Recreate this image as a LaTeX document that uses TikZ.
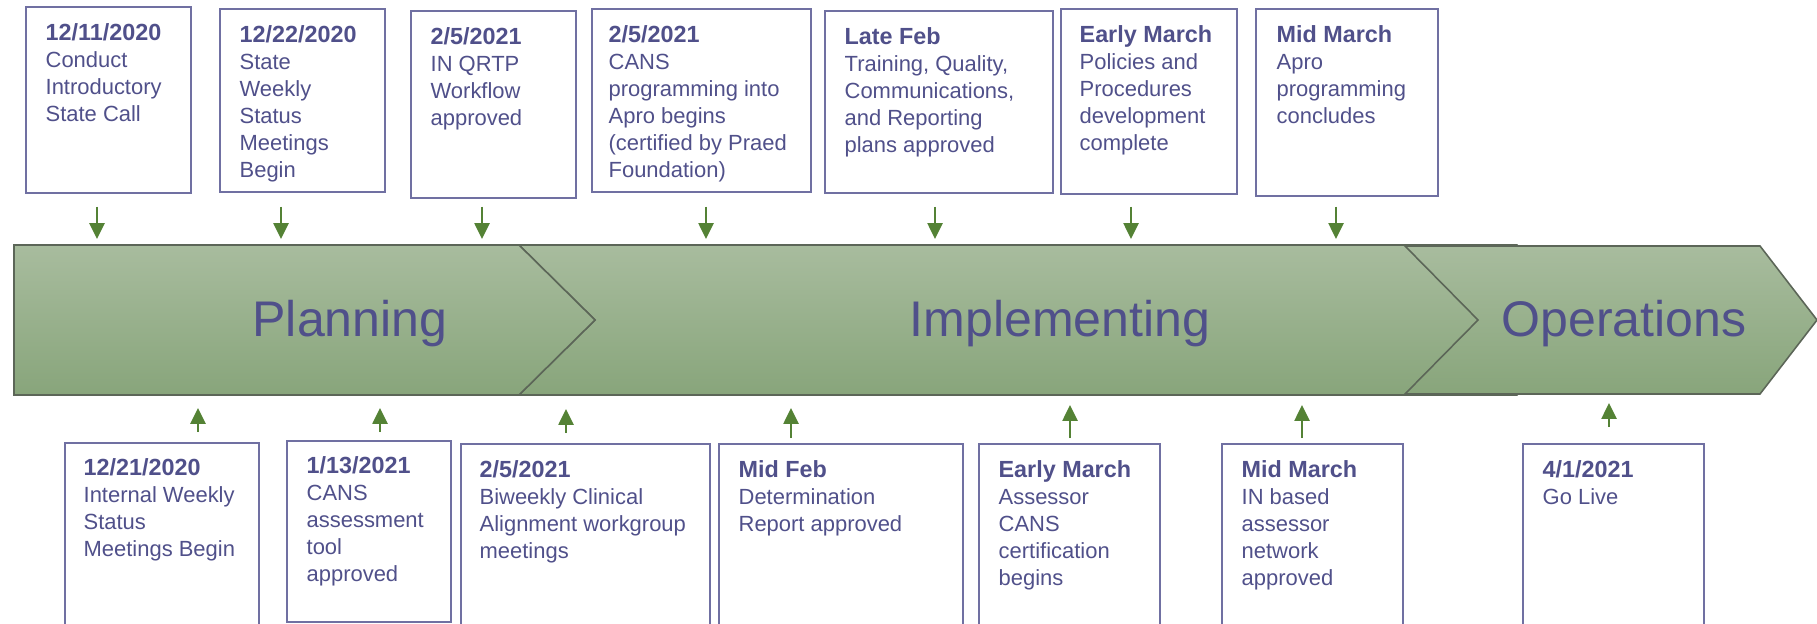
\documentclass[tikz,border=0pt]{standalone}
\usepackage{fontspec}
\setmainfont{Liberation Sans}
\usetikzlibrary{arrows.meta, fit, positioning}
\definecolor{txtblue}{RGB}{80,80,138}
\definecolor{boxline}{RGB}{112,112,162}
\definecolor{arrgreen}{RGB}{84,130,53}
\definecolor{bandtop}{RGB}{168,188,158}
\definecolor{bandbot}{RGB}{136,165,123}
\definecolor{bandedge}{RGB}{92,102,88}
\newcommand{\evdate}[1]{{\fontsize{13.3}{15.4}\selectfont\bfseries #1}}

\begin{document}
\begin{tikzpicture}[x=0.02cm, y=-0.02cm, >={Triangle[length=9pt,width=8.5pt]}]
    \tikzstyle{evbox}=[draw=boxline, line width=0.8pt, inner sep=0pt]
    \tikzstyle{evtext}=[text=txtblue, font=\fontsize{12.5}{15.4}\selectfont, align=left, anchor=north west, inner sep=0pt]
    \tikzstyle{phase}=[draw=bandedge, line width=0.9pt, top color=bandtop, bottom color=bandbot]
    \tikzstyle{phaselabel}=[text=txtblue, font=\fontsize{28.5}{30}\selectfont, anchor=base]
    \tikzstyle{milearrow}=[->, draw=arrgreen, fill=arrgreen, line width=1.3pt]

    \useasboundingbox (0,0) rectangle (1817,624);
    \clip (0,0) rectangle (1817,624);

    % Phase band
    \draw[phase] (519,245) -- (1517,245) -- (1593,320) -- (1517,395) -- (519,395) -- (595,320) -- cycle;
    \draw[phase] (14,245) -- (519,245) -- (595,320) -- (519,395) -- (14,395) -- cycle;
    \draw[phase] (1405,246) -- (1760,246) -- (1817,320) -- (1760,394) -- (1405,394) -- (1478,320) -- cycle;

    \node[phaselabel] (plan) at (350,337) {Planning};
    \node[phaselabel] (impl) at (1060,337) {Implementing};
    \node[phaselabel] (oper) at (1624,337) {Operations};

    % Milestones above the band
    \node[evbox, fit={(26,7) (191,193)}] (t1) {};
    \node[evtext, below right=0.34cm and 0.4cm of t1.north west] (t1txt) {\evdate{12/11/2020}\\Conduct\\Introductory\\State Call};

    \node[evbox, fit={(220,9) (385,192)}] (t2) {};
    \node[evtext, below right=0.34cm and 0.4cm of t2.north west] (t2txt) {\evdate{12/22/2020}\\State\\Weekly\\Status\\Meetings\\Begin};

    \node[evbox, fit={(411,11) (576,198)}] (t3) {};
    \node[evtext, below right=0.34cm and 0.4cm of t3.north west] (t3txt) {\evdate{2/5/2021}\\IN QRTP\\Workflow\\approved};

    \node[evbox, fit={(592,9) (811,192)}] (t4) {};
    \node[evtext, below right=0.34cm and 0.34cm of t4.north west] (t4txt) {\evdate{2/5/2021}\\CANS\\programming into\\Apro begins\\(certified by Praed\\Foundation)};

    \node[evbox, fit={(825,11) (1053,193)}] (t5) {};
    \node[evtext, below right=0.34cm and 0.4cm of t5.north west] (t5txt) {\evdate{Late Feb}\\Training, Quality,\\Communications,\\and Reporting\\plans approved};

    \node[evbox, fit={(1061,9) (1237,194)}] (t6) {};
    \node[evtext, below right=0.34cm and 0.38cm of t6.north west] (t6txt) {\evdate{Early March}\\Policies and\\Procedures\\development\\complete};

    \node[evbox, fit={(1256,9) (1438,196)}] (t7) {};
    \node[evtext, below right=0.34cm and 0.42cm of t7.north west] (t7txt) {\evdate{Mid March}\\Apro\\programming\\concludes};

    % Milestones below the band
    \node[evbox, fit={(65,443) (259,640)}] (b1) {};
    \node[evtext, below right=0.32cm and 0.38cm of b1.north west] (b1txt) {\evdate{12/21/2020}\\Internal Weekly\\Status\\Meetings Begin};

    \node[evbox, fit={(287,441) (451,622)}] (b2) {};
    \node[evtext, below right=0.32cm and 0.4cm of b2.north west] (b2txt) {\evdate{1/13/2021}\\CANS\\assessment\\tool\\approved};

    \node[evbox, fit={(461,444) (710,640)}] (b3) {};
    \node[evtext, below right=0.34cm and 0.38cm of b3.north west] (b3txt) {\evdate{2/5/2021}\\Biweekly Clinical\\Alignment workgroup\\meetings};

    \node[evbox, fit={(719,444) (963,640)}] (b4) {};
    \node[evtext, below right=0.34cm and 0.4cm of b4.north west] (b4txt) {\evdate{Mid Feb}\\Determination\\Report approved};

    \node[evbox, fit={(979,444) (1160,640)}] (b5) {};
    \node[evtext, below right=0.34cm and 0.4cm of b5.north west] (b5txt) {\evdate{Early March}\\Assessor\\CANS\\certification\\begins};

    \node[evbox, fit={(1222,444) (1403,640)}] (b6) {};
    \node[evtext, below right=0.34cm and 0.4cm of b6.north west] (b6txt) {\evdate{Mid March}\\IN based\\assessor\\network\\approved};

    \node[evbox, fit={(1523,444) (1704,640)}] (b7) {};
    \node[evtext, below right=0.34cm and 0.4cm of b7.north west] (b7txt) {\evdate{4/1/2021}\\Go Live};

    % Arrows pointing at the band
    \foreach \x [count=\i] in {97,281,482,706,935,1131,1336} {
        \coordinate (dtail\i) at (\x,207);
        \coordinate (dhead\i) at (\x,239);
        \draw[milearrow] (dtail\i) -- (dhead\i);
    }
    \foreach \x/\ya/\yb [count=\i] in {198/432/408, 380/432/408, 566/433/409, 791/438/408, 1070/438/405, 1302/438/405, 1609/427/403} {
        \coordinate (utail\i) at (\x,\ya);
        \coordinate (uhead\i) at (\x,\yb);
        \draw[milearrow] (utail\i) -- (uhead\i);
    }
\end{tikzpicture}
\end{document}
